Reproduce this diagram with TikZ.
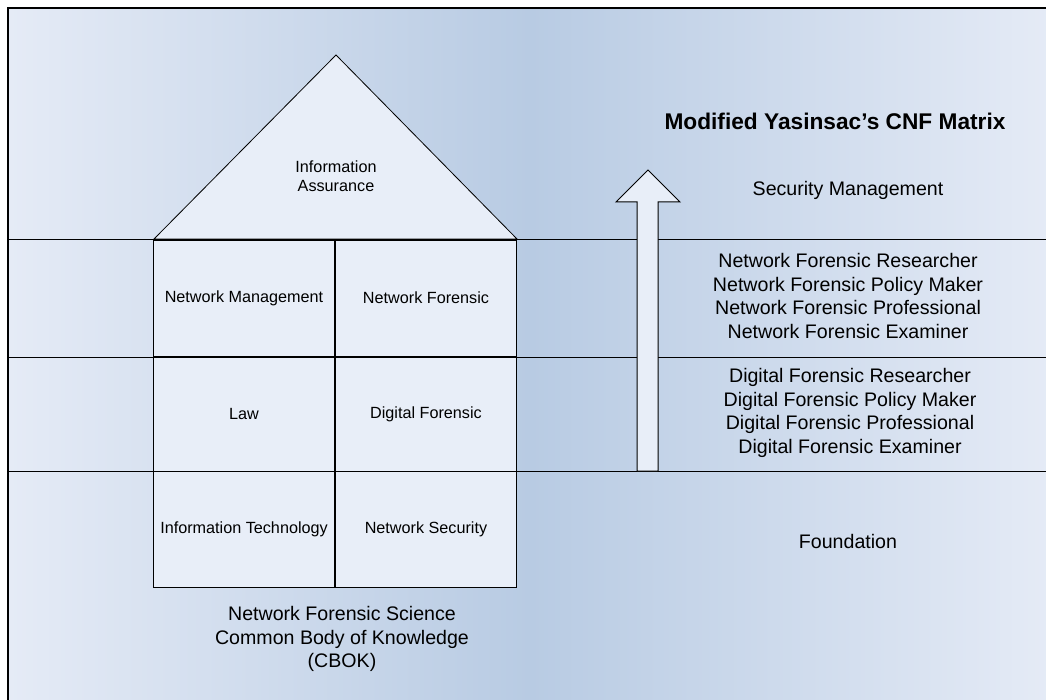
\documentclass[tikz,border=0pt]{standalone}
\usepackage{fontspec}
\setmainfont{Liberation Sans}
\begin{document}
\begin{tikzpicture}[x=1pt,y=-1pt,
  cell/.style={draw=black,line width=0.8pt,fill=paper,minimum width=181pt,minimum height=116pt,inner sep=0pt,font=\fontsize{16.2}{19}\selectfont},
  label/.style={align=center,font=\fontsize{19.6}{23.8}\selectfont},
  band/.style={line width=0.8pt,draw=black}]
\definecolor{paper}{HTML}{E8EEF8}
\definecolor{edge}{HTML}{E5EBF6}
\definecolor{mid}{HTML}{B8CBE3}
\useasboundingbox (0,0) rectangle (1046,700);
\begin{scope}
\clip (0,0) rectangle (1046,700);
% shaded background panel
\path[left color=edge,right color=edge,middle color=mid] (8,8) rectangle (1052,706);
\draw[line width=1.2pt] (8,706) -- (8,8) -- (1052,8);
% horizontal band lines
\coordinate (l1) at (8,239); \coordinate (r1) at (1046,239);
\coordinate (l2) at (8,357); \coordinate (r2) at (1046,357);
\coordinate (l3) at (8,471); \coordinate (r3) at (1046,471);
\draw[band] (l1) -- (r1);
\draw[band] (l2) -- (r2);
\draw[band] (l3) -- (r3);
\end{scope}
% roof
\coordinate (rl) at (154,239); \coordinate (rr) at (517,239); \coordinate (apex) at (336,55);
\draw[fill=paper,line width=0.8pt] (rl) -- (apex) -- (rr) -- cycle;
\node[align=center,font=\fontsize{16.2}{19}\selectfont] (ia) at (336,176) {Information\\Assurance};
% house cells
\node[cell] (nm) at (244,298) {Network Management};
\node[cell] (nf) at (426,298) {Network Forensic};
\node[cell,minimum height=114pt] (law) at (244,414) {Law};
\node[cell,minimum height=114pt] (df) at (426,414) {Digital Forensic};
\node[cell] (it) at (244,529) {Information Technology};
\node[cell] (ns) at (426,529) {Network Security};
\node[label] (cbok) at (342,639) {Network Forensic Science\\Common Body of Knowledge\\(CBOK)};
% progression arrow
\draw[fill=paper,line width=1pt] (637,471) -- (637,202) -- (616,202) -- (648,170) -- (680,202) -- (658,202) -- (658,471) -- cycle;
% matrix labels
\node[font=\bfseries\fontsize{22.7}{26}\selectfont] (title) at (835,121) {Modified Yasinsac's CNF Matrix};
\node[label] (sm) at (848,190) {Security Management};
\node[label] (nfl) at (848,296) {Network Forensic Researcher\\Network Forensic Policy Maker\\Network Forensic Professional\\Network Forensic Examiner};
\node[label] (dfl) at (850,413) {Digital Forensic Researcher\\Digital Forensic Policy Maker\\Digital Forensic Professional\\Digital Forensic Examiner};
\node[label] (fd) at (848,541) {Foundation};
\end{tikzpicture}
\end{document}
